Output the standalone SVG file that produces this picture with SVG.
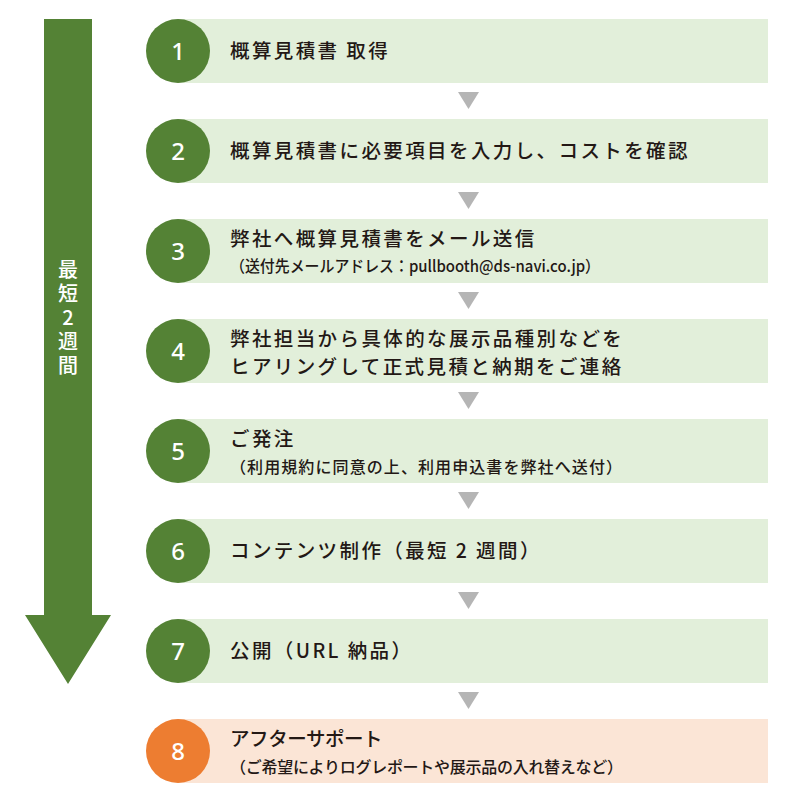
<svg xmlns="http://www.w3.org/2000/svg" width="800" height="800" viewBox="0 0 800 800">
<style>
.bg{fill:#e2efda}
.bgo{fill:#fbe5d6}
.c{fill:#548235}
.co{fill:#ed7d31}
.num{font-family:"Noto Sans","Liberation Sans",sans-serif;font-size:24px;font-weight:500;fill:#fff;text-anchor:middle}
.t{font-family:"Noto Sans CJK JP","Noto Sans",sans-serif;font-size:19.5px;font-weight:500;fill:#231815;letter-spacing:2.4px}
.s{font-family:"Noto Sans CJK JP","Noto Sans",sans-serif;font-size:16px;font-weight:500;fill:#231815}
.tri{fill:#b5b5b5}
.vt{font-family:"Noto Sans CJK JP","Noto Sans",sans-serif;font-size:20px;font-weight:500;fill:#fff;writing-mode:vertical-rl;text-orientation:upright;letter-spacing:4px}
</style>
<g id="big-arrow">
<polygon points="44,19 92,19 92,615 111,615 68,684 25,615 44,615" fill="#548235"/>
<text class="vt" x="68" y="259">最短2週間</text>
</g>
<g id="connectors">
<polygon class="tri" points="458,92 479,92 468.5,109"/>
<polygon class="tri" points="458,192 479,192 468.5,209"/>
<polygon class="tri" points="458,292 479,292 468.5,309"/>
<polygon class="tri" points="458,392 479,392 468.5,409"/>
<polygon class="tri" points="458,492 479,492 468.5,509"/>
<polygon class="tri" points="458,592 479,592 468.5,609"/>
<polygon class="tri" points="458,692 479,692 468.5,709"/>
</g>
<g id="step1">
<rect class="bg" x="178" y="19" width="590" height="64"/>
<circle class="c" cx="178" cy="51" r="32"/>
<text class="num" x="178" y="60">1</text>
<text class="t" x="230" y="58">概算見積書 取得</text>
</g>
<g id="step2">
<rect class="bg" x="178" y="119" width="590" height="64"/>
<circle class="c" cx="178" cy="151" r="32"/>
<text class="num" x="178" y="160">2</text>
<text class="t" x="230" y="158">概算見積書に必要項目を入力し、コストを確認</text>
</g>
<g id="step3">
<rect class="bg" x="178" y="219" width="590" height="64"/>
<circle class="c" cx="178" cy="251" r="32"/>
<text class="num" x="178" y="260">3</text>
<text class="t" x="230" y="246">弊社へ概算見積書をメール送信</text>
<text class="s" x="230" y="272" textLength="370" lengthAdjust="spacingAndGlyphs">（送付先メールアドレス：pullbooth@ds-navi.co.jp）</text>
</g>
<g id="step4">
<rect class="bg" x="178" y="319" width="590" height="64"/>
<circle class="c" cx="178" cy="351" r="32"/>
<text class="num" x="178" y="360">4</text>
<text class="t" x="230" y="346">弊社担当から具体的な展示品種別などを</text>
<text class="t" x="230" y="374">ヒアリングして正式見積と納期をご連絡</text>
</g>
<g id="step5">
<rect class="bg" x="178" y="419" width="590" height="64"/>
<circle class="c" cx="178" cy="451" r="32"/>
<text class="num" x="178" y="460">5</text>
<text class="t" x="230" y="446">ご発注</text>
<text class="s" x="230" y="473" textLength="392">（利用規約に同意の上、利用申込書を弊社へ送付）</text>
</g>
<g id="step6">
<rect class="bg" x="178" y="519" width="590" height="64"/>
<circle class="c" cx="178" cy="551" r="32"/>
<text class="num" x="178" y="560">6</text>
<text class="t" x="230" y="558">コンテンツ制作（最短 2 週間）</text>
</g>
<g id="step7">
<rect class="bg" x="178" y="619" width="590" height="64"/>
<circle class="c" cx="178" cy="651" r="32"/>
<text class="num" x="178" y="660">7</text>
<text class="t" x="230" y="658">公開（URL 納品）</text>
</g>
<g id="step8">
<rect class="bgo" x="178" y="719" width="590" height="64"/>
<circle class="co" cx="178" cy="751" r="32"/>
<text class="num" x="178" y="760">8</text>
<text class="t" x="230" y="746" textLength="155">アフターサポート</text>
<text class="s" x="230" y="773" textLength="393">（ご希望によりログレポートや展示品の入れ替えなど）</text>
</g>
</svg>
